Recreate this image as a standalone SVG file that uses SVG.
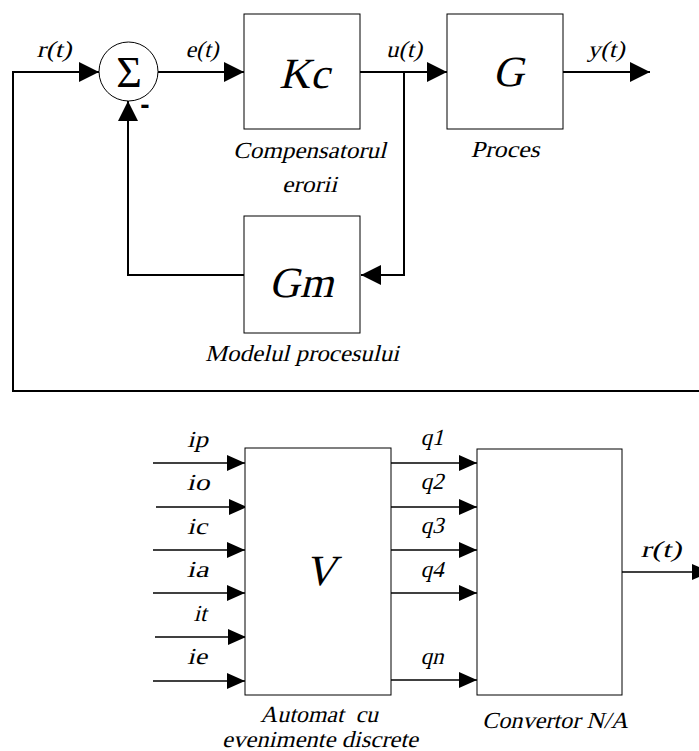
<svg xmlns="http://www.w3.org/2000/svg" width="699" height="751" viewBox="0 0 699 751">
<style>
.bg{fill:#fff}
.box{fill:#fff;stroke:#000;stroke-width:1}
.w1{fill:none;stroke:#000;stroke-width:2}
.w2{fill:none;stroke:#000;stroke-width:1.3}
.t{font-family:'Liberation Serif','Times New Roman',serif;font-size:23px;fill:#000;text-anchor:middle}
.big{font-family:'Liberation Serif','Times New Roman',serif;font-size:43px;fill:#000;text-anchor:middle}
.sig{font-family:'Liberation Serif','Times New Roman',serif;font-size:44px;fill:#000;text-anchor:middle}
.minus{font-family:'Liberation Sans',Arial,sans-serif;font-weight:bold;font-size:28px;fill:#000;text-anchor:middle}
</style>
<defs>
<marker id="a1" markerUnits="userSpaceOnUse" markerWidth="20" markerHeight="20" refX="20" refY="10" orient="auto">
<path d="M0,0 L20,10 L0,20 z" fill="#000"/>
</marker>
<marker id="a2" markerUnits="userSpaceOnUse" markerWidth="18" markerHeight="16" refX="18" refY="8" orient="auto">
<path d="M0,0 L18,8 L0,16 z" fill="#000"/>
</marker>
</defs>
<rect class="bg" x="0" y="0" width="699" height="751"/>

<g id="connectors">
<path class="w1" d="M699,391 L13,391 L13,72 L99,72" marker-end="url(#a1)"/>
<path class="w1" d="M158,72 L244,72" marker-end="url(#a1)"/>
<path class="w1" d="M360,72 L447,72" marker-end="url(#a1)"/>
<path class="w1" d="M404,72 L404,275 L361,275" marker-end="url(#a1)"/>
<path class="w1" d="M244,275 L128,275 L128,101" marker-end="url(#a1)"/>
<path class="w1" d="M563,72 L650,72" marker-end="url(#a1)"/>

<path class="w2" d="M153,463 L245,463" marker-end="url(#a2)"/>
<path class="w2" d="M156,507 L247,507" marker-end="url(#a2)"/>
<path class="w2" d="M153,550 L245,550" marker-end="url(#a2)"/>
<path class="w2" d="M153,593 L245,593" marker-end="url(#a2)"/>
<path class="w2" d="M155,637 L246,637" marker-end="url(#a2)"/>
<path class="w2" d="M153,681 L245,681" marker-end="url(#a2)"/>

<path class="w2" d="M391,463 L477,463" marker-end="url(#a2)"/>
<path class="w2" d="M391,507 L477,507" marker-end="url(#a2)"/>
<path class="w2" d="M391,550 L477,550" marker-end="url(#a2)"/>
<path class="w2" d="M391,593 L477,593" marker-end="url(#a2)"/>
<path class="w2" d="M391,680 L477,680" marker-end="url(#a2)"/>
<path class="w2" d="M622,572 L710,572" marker-end="url(#a2)"/>

<text class="t" transform="translate(54,57) skewX(-14)" textLength="35" lengthAdjust="spacingAndGlyphs">r(t)</text>
<text class="t" transform="translate(202,57) skewX(-14)" textLength="33" lengthAdjust="spacingAndGlyphs">e(t)</text>
<text class="t" transform="translate(404,57) skewX(-14)" textLength="36" lengthAdjust="spacingAndGlyphs">u(t)</text>
<text class="t" transform="translate(606,57) skewX(-14)" textLength="37" lengthAdjust="spacingAndGlyphs">y(t)</text>

<text class="t" transform="translate(197.5,447) skewX(-14)" textLength="21" lengthAdjust="spacingAndGlyphs">ip</text>
<text class="t" transform="translate(198,490) skewX(-14)" textLength="23" lengthAdjust="spacingAndGlyphs">io</text>
<text class="t" transform="translate(197,534) skewX(-14)" textLength="20" lengthAdjust="spacingAndGlyphs">ic</text>
<text class="t" transform="translate(197.5,577) skewX(-14)" textLength="22" lengthAdjust="spacingAndGlyphs">ia</text>
<text class="t" transform="translate(200,621) skewX(-14)" textLength="13" lengthAdjust="spacingAndGlyphs">it</text>
<text class="t" transform="translate(197,664) skewX(-14)" textLength="20" lengthAdjust="spacingAndGlyphs">ie</text>

<text class="t" transform="translate(432,445) skewX(-14)" textLength="23" lengthAdjust="spacingAndGlyphs">q1</text>
<text class="t" transform="translate(432,489) skewX(-14)" textLength="23" lengthAdjust="spacingAndGlyphs">q2</text>
<text class="t" transform="translate(432,533) skewX(-14)" textLength="23" lengthAdjust="spacingAndGlyphs">q3</text>
<text class="t" transform="translate(432,577) skewX(-14)" textLength="23" lengthAdjust="spacingAndGlyphs">q4</text>
<text class="t" transform="translate(432,664) skewX(-14)" textLength="23" lengthAdjust="spacingAndGlyphs">qn</text>
<text class="t" transform="translate(661,557) skewX(-14)" textLength="41" lengthAdjust="spacingAndGlyphs">r(t)</text>
</g>

<g id="sum">
<circle cx="128.5" cy="71.5" r="29.5" fill="#fff" stroke="#000" stroke-width="1"/>
<text class="sig" x="129" y="87">Σ</text>
<text class="minus" x="145" y="114">-</text>
</g>

<g id="kc">
<rect class="box" x="244" y="14" width="116" height="115"/>
<text class="big" transform="translate(304,88) skewX(-14)">Kc</text>
<text class="t" transform="translate(309.5,158) skewX(-14)" textLength="153" lengthAdjust="spacingAndGlyphs">Compensatorul</text>
<text class="t" transform="translate(309.5,192) skewX(-14)" textLength="55" lengthAdjust="spacingAndGlyphs">erorii</text>
</g>

<g id="g">
<rect class="box" x="447" y="14" width="116" height="115"/>
<text class="big" transform="translate(508,86) skewX(-14)">G</text>
<text class="t" transform="translate(505,157) skewX(-14)" textLength="69" lengthAdjust="spacingAndGlyphs">Proces</text>
</g>

<g id="gm">
<rect class="box" x="244" y="216" width="116" height="117"/>
<text class="big" transform="translate(301,297) skewX(-14)">Gm</text>
<text class="t" transform="translate(302,361) skewX(-14)" textLength="194" lengthAdjust="spacingAndGlyphs">Modelul procesului</text>
</g>

<g id="v">
<rect class="box" x="245" y="448" width="146" height="247"/>
<text class="big" transform="translate(320,585) skewX(-14)">V</text>
<text class="t" transform="translate(319,722) skewX(-14)" textLength="118" lengthAdjust="spacingAndGlyphs" xml:space="preserve">Automat  cu</text>
<text class="t" transform="translate(320,747) skewX(-14)" textLength="196" lengthAdjust="spacingAndGlyphs">evenimente discrete</text>
</g>

<g id="convertor">
<rect class="box" x="477" y="449" width="145" height="246"/>
<text class="t" transform="translate(555,728) skewX(-14)" textLength="146" lengthAdjust="spacingAndGlyphs">Convertor N/A</text>
</g>
</svg>
